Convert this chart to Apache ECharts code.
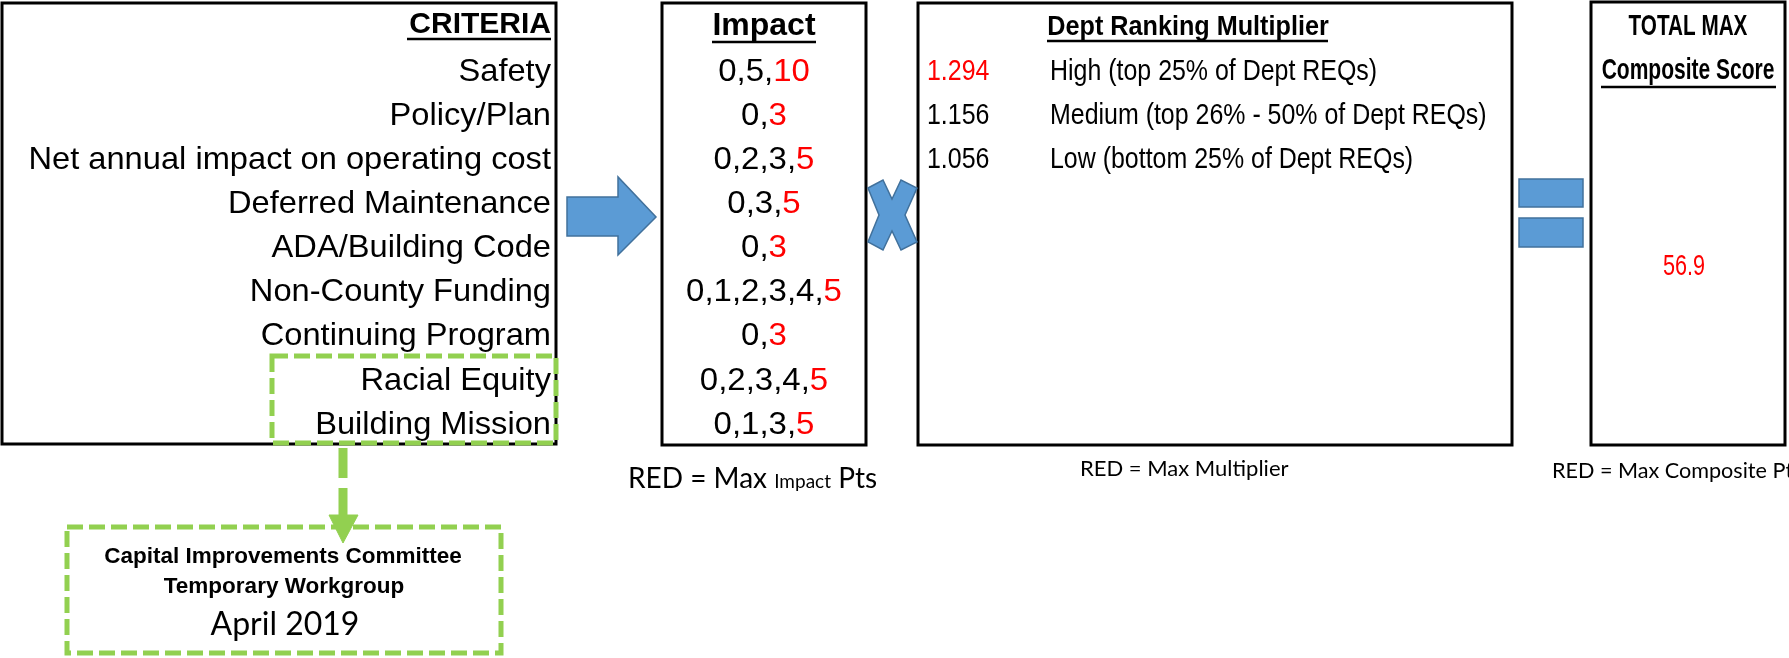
<!DOCTYPE html>
<html>
<head>
<meta charset="utf-8">
<script src="https://cdn.jsdelivr.net/npm/echarts@6/dist/echarts.min.js"></script>
<style>
  html, body { margin: 0; padding: 0; background: #fff; }
  #chart { width: 1789px; height: 658px; }
</style>
</head>
<body>
<div id="chart"></div>
<script>
// criteria and the points each one can score (last value = max, shown red)
const criteria = ['Safety', 'Policy/Plan', 'Net annual impact on operating cost', 'Deferred Maintenance',
  'ADA/Building Code', 'Non-County Funding', 'Continuing Program', 'Racial Equity', 'Building Mission']
const impactPts = [[0, 5, 10], [0, 3], [0, 2, 3, 5], [0, 3, 5], [0, 3], [0, 1, 2, 3, 4, 5], [0, 3], [0, 2, 3, 4, 5], [0, 1, 3, 5]]

// dept ranking multiplier
const multipliers = ['1.294', '1.156', '1.056']
const multiplierTiers = ['High (top 25% of Dept REQs)', 'Medium (top 26% - 50% of Dept REQs)', 'Low (bottom 25% of Dept REQs)']

const totalMax = '56.9'

const headers = ['CRITERIA', 'Impact', 'Dept Ranking Multiplier', 'TOTAL MAX', 'Composite Score']
const impactNote = ['RED = Max ', 'Impact', ' Pts']
const notes = ['RED = Max Multiplier', 'RED = Max Composite Pts']
const workgroup = ['Capital Improvements Committee', 'Temporary Workgroup', 'April 2019']

const RED = '#ff0000'
const BLUE = '#5b9bd5'
const BLUE_EDGE = '#41719c'
const GREEN = '#92d050'
const ARIAL = '"Liberation Sans", Arial, sans-serif'
const CALIBRI = 'Lato, "Open Sans", sans-serif'

// rows line up across the criteria / impact / multiplier columns
const ROW0 = 72
const ROW_STEP = 44.1
function rowY(i) {
  return ROW0 + i * ROW_STEP
}

// canvas measure, used to butt the mixed-size note pieces together
const measureCtx = document.createElement('canvas').getContext('2d')
function textWidth(s, size, family) {
  measureCtx.font = size + 'px ' + family
  return measureCtx.measureText(s).width
}

function txt(x, y, text, o) {
  o = o || {}
  return {
    type: 'text',
    x: x,
    y: y,
    scaleX: o.sx || 1,
    z: 5,
    style: {
      text: text,
      fill: o.fill || '#000',
      fontSize: o.size || 30,
      fontWeight: o.bold ? 'bold' : 'normal',
      fontFamily: o.family || ARIAL,
      align: o.align || 'left',
      verticalAlign: o.valign || 'middle',
      rich: o.rich
    }
  }
}
function box(x, y, w, h, o) {
  o = o || {}
  return {
    type: 'rect',
    z: o.z || 1,
    shape: { x: x, y: y, width: w, height: h },
    style: { fill: 'none', stroke: o.stroke || '#000', lineWidth: o.lw || 3, lineDash: o.dash || null }
  }
}
function line(x1, y1, x2, y2, o) {
  o = o || {}
  return {
    type: 'line',
    z: o.z || 2,
    shape: { x1: x1, y1: y1, x2: x2, y2: y2 },
    style: { stroke: o.stroke || '#000', lineWidth: o.lw || 2.5, lineDash: o.dash || null }
  }
}
function poly(points, o) {
  o = o || {}
  return {
    type: 'polygon',
    z: o.z || 3,
    shape: { points: points },
    style: { fill: o.fill || BLUE, stroke: o.stroke || BLUE_EDGE, lineWidth: o.lw == null ? 1.5 : o.lw }
  }
}

let g = []

// ---- criteria box
g.push(box(2, 3, 554, 441))
g.push(txt(551, 25, headers[0], { bold: true, size: 30, align: 'right' }))
g.push(line(407, 39, 551, 39))
criteria.forEach(function (c, i) {
  g.push(txt(551, rowY(i), c, { size: 32, sx: 1.02, align: 'right' }))
})

// ---- impact box
g.push(box(662, 3, 204, 442))
g.push(txt(764, 26, headers[1], { bold: true, size: 32, align: 'center' }))
g.push(line(712, 42, 816, 42))
impactPts.forEach(function (pts, i) {
  let head = pts.slice(0, -1).join(',') + ','
  let max = pts[pts.length - 1]
  g.push(txt(764, rowY(i), '{k|' + head + '}{r|' + max + '}', {
    sx: 1.03,
    align: 'center',
    rich: {
      k: { fontSize: 32, fontFamily: ARIAL, fill: '#000' },
      r: { fontSize: 32, fontFamily: ARIAL, fill: RED }
    }
  }))
})

// ---- dept ranking multiplier box
g.push(box(918, 3, 594, 442))
g.push(txt(1188, 27, headers[2], { bold: true, size: 28, sx: 0.9, align: 'center' }))
g.push(line(1047, 41, 1328, 41))
multipliers.forEach(function (m, i) {
  g.push(txt(927, rowY(i), m, { size: 29, sx: 0.86, fill: i === 0 ? RED : '#000' }))
  g.push(txt(1050, rowY(i), multiplierTiers[i], { size: 29, sx: 0.86 }))
})

// ---- total box
g.push(box(1591, 2, 194, 443))
g.push(txt(1688, 27, headers[3], { bold: true, size: 30, sx: 0.69, align: 'center' }))
g.push(txt(1688, 71, headers[4], { bold: true, size: 30, sx: 0.7, align: 'center' }))
g.push(line(1601, 87, 1776, 87))
g.push(txt(1684, 267, totalMax, { size: 30, sx: 0.72, align: 'center', fill: RED }))

// ---- operators: arrow, times, equals
g.push(poly([[567, 197], [618, 197], [618, 177], [656, 217], [618, 255], [618, 236], [567, 236]]))
g.push(poly([[868, 188], [883, 180], [892, 199], [901, 180], [917, 188], [905, 215], [917, 242], [901, 250],
  [892, 231], [883, 250], [868, 242], [879, 215]]))
g.push(poly([[1519, 179], [1583, 179], [1583, 207], [1519, 207]]))
g.push(poly([[1519, 218], [1583, 218], [1583, 247], [1519, 247]]))

// ---- notes under the boxes ("Impact" is set smaller, same baseline)
let nx = 628
let nSizes = [28, 19, 28]
impactNote.forEach(function (s, i) {
  g.push(txt(nx, 493 - (i === 1 ? 2 : 0), s, { family: CALIBRI, size: nSizes[i], valign: 'bottom' }))
  nx += textWidth(s, nSizes[i], CALIBRI)
})
g.push(txt(1080, 469, notes[0], { family: CALIBRI, size: 22 }))
g.push(txt(1552, 471, notes[1], { family: CALIBRI, size: 21.6 }))

// ---- green call-out: racial equity / building mission -> workgroup
g.push(box(272, 356, 284, 87, { stroke: GREEN, lw: 5, dash: [16, 6], z: 6 }))
g.push(line(343, 448, 343, 516, { stroke: GREEN, lw: 9, dash: [30, 10], z: 6 }))
g.push(poly([[329, 515], [358, 515], [343, 543]], { fill: GREEN, stroke: GREEN, lw: 1, z: 6 }))
g.push(box(67, 527, 434, 126, { stroke: GREEN, lw: 5, dash: [16, 6], z: 6 }))
g.push(txt(283, 557, workgroup[0], { bold: true, size: 22.5, align: 'center' }))
g.push(txt(284, 587, workgroup[1], { bold: true, size: 22.5, align: 'center' }))
g.push(txt(285, 625, workgroup[2], { family: CALIBRI, size: 32, align: 'center' }))

let myChart = echarts.init(document.getElementById('chart'))
myChart.setOption({
  backgroundColor: '#fff',
  animation: false,
  graphic: { elements: g }
})
window.onresize = function () {
  myChart.resize()
}
</script>
</body>
</html>
